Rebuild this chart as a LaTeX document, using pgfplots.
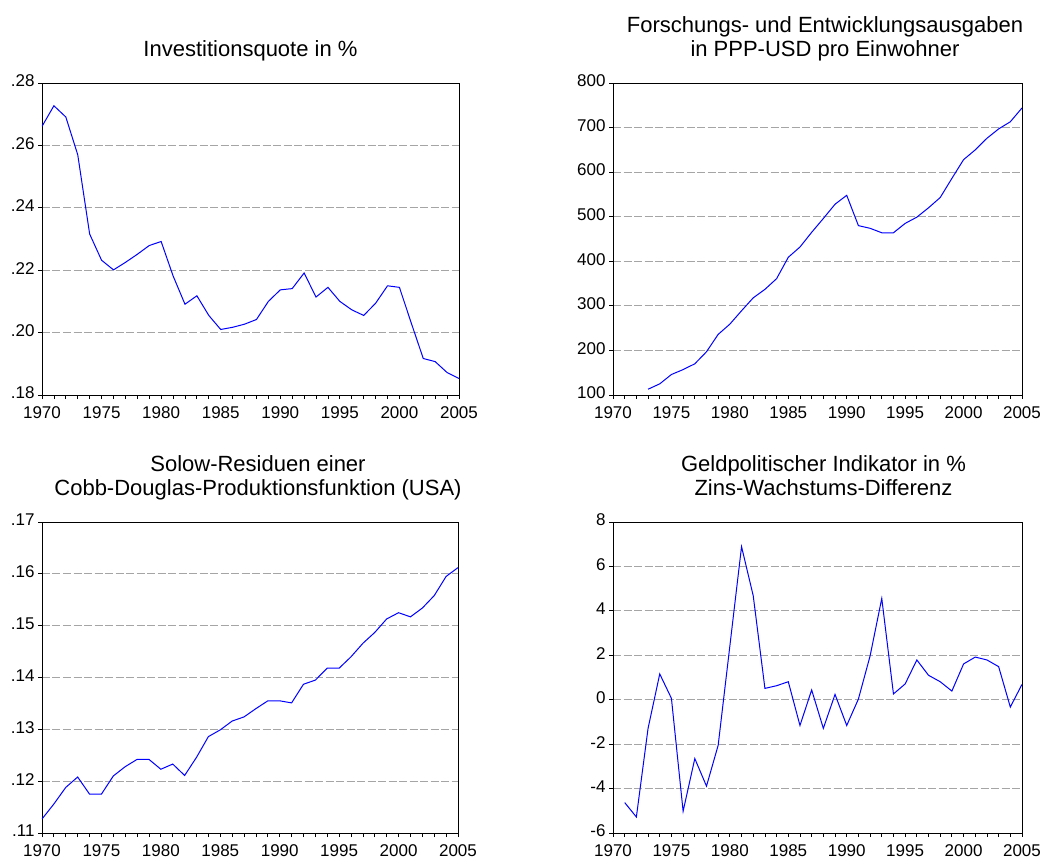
\documentclass[border=0pt]{standalone}
\usepackage{fontspec}
\setmainfont{Liberation Sans}
\usepackage{pgfplots}
\pgfplotsset{compat=1.18}
\definecolor{gridgray}{RGB}{165,165,165}
\pgfplotsset{
  panel/.style={
    scale only axis,
    anchor=north west,
    xmin=1970, xmax=2005,
    enlargelimits=false,
    axis line style={black, line width=0.9pt},
    tick align=outside,
    xtick pos=bottom, ytick pos=left,
    xtick={1970,1975,...,2005},
    xticklabels={1970,1975,1980,1985,1990,1995,2000,2005},
    minor x tick num=4,
    major tick length=4pt, minor tick length=4pt,
    every tick/.style={black, line width=0.8pt},
    tick label style={font=\fontsize{17}{19}\selectfont},
    xticklabel style={yshift=-4.5pt},
    yticklabel style={yshift=2pt},
    /pgf/number format/assume math mode=true,
    ymajorgrids,
    major grid style={gridgray, line width=0.9pt, dash pattern=on 8pt off 2.5pt},
    every axis title shift=0pt,
    title style={font=\fontsize{22}{24.5}\selectfont, align=center, anchor=south, inner sep=0pt, yshift=18.5pt},
    every axis plot/.append style={blue, line width=1pt, no marks},
  }
}
\begin{document}
\begin{tikzpicture}
\path[use as bounding box] (0pt,0pt) rectangle (1053pt,-861pt);

% Panel 1
\begin{axis}[panel, at={(42pt,-83pt)}, width=417pt, height=312pt,
  ymin=0.18, ymax=0.28,
  ytick={0.18,0.20,0.22,0.24,0.26,0.28},
  yticklabels={.18,.20,.22,.24,.26,.28},
  title={Investitionsquote in \%\strut}]
\addplot coordinates {
(1970,0.2661) (1971,0.2727) (1972,0.2691) (1973,0.2570) (1974,0.2316)
(1975,0.2232) (1976,0.2201) (1977,0.2225) (1978,0.2251) (1979,0.2279)
(1980,0.2292) (1981,0.2182) (1982,0.2091) (1983,0.2118) (1984,0.2055)
(1985,0.2010) (1986,0.2017) (1987,0.2027) (1988,0.2042) (1989,0.2100)
(1990,0.2137) (1991,0.2141) (1992,0.2191) (1993,0.2114) (1994,0.2145)
(1995,0.2100) (1996,0.2073) (1997,0.2055) (1998,0.2094) (1999,0.2150)
(2000,0.2145) (2001,0.2030) (2002,0.1917) (2003,0.1907) (2004,0.1872)
(2005,0.1853)};
\end{axis}

% Panel 2
\begin{axis}[panel, at={(613pt,-83pt)}, width=409pt, height=312pt,
  ymin=100, ymax=800,
  ytick={100,200,...,800},
  yticklabels={100,200,300,400,500,600,700,800},
  title style={xshift=7.5pt},
  title={Forschungs- und Entwicklungsausgaben\\in PPP-USD pro Einwohner\strut}]
\addplot coordinates {
(1973,113) (1974,125) (1975,146) (1976,157) (1977,170) (1978,197)
(1979,236) (1980,259) (1981,289) (1982,318) (1983,337) (1984,361)
(1985,409) (1986,432) (1987,465) (1988,496) (1989,528) (1990,548)
(1991,480) (1992,474) (1993,464) (1994,464) (1995,485) (1996,499)
(1997,520) (1998,543) (1999,586) (2000,628) (2001,650) (2002,676)
(2003,697) (2004,713) (2005,744)};
\end{axis}

% Panel 3
\begin{axis}[panel, at={(42pt,-522pt)}, width=416pt, height=311pt,
  ymin=0.11, ymax=0.17,
  ytick={0.11,0.12,0.13,0.14,0.15,0.16,0.17},
  yticklabels={.11,.12,.13,.14,.15,.16,.17},
  title style={xshift=8pt},
  title={Solow-Residuen einer\\Cobb-Douglas-Produktionsfunktion (USA)\strut}]
\addplot coordinates {
(1970,0.1127) (1971,0.1156) (1972,0.1188) (1973,0.1208) (1974,0.1175)
(1975,0.1175) (1976,0.1210) (1977,0.1228) (1978,0.1242) (1979,0.1242)
(1980,0.1223) (1981,0.1233) (1982,0.1211) (1983,0.1246) (1984,0.1286)
(1985,0.1299) (1986,0.1316) (1987,0.1324) (1988,0.1340) (1989,0.1355)
(1990,0.1355) (1991,0.1351) (1992,0.1387) (1993,0.1395) (1994,0.1418)
(1995,0.1418) (1996,0.1440) (1997,0.1466) (1998,0.1487) (1999,0.1513)
(2000,0.1525) (2001,0.1517) (2002,0.1534) (2003,0.1558) (2004,0.1595)
(2005,0.1612)};
\end{axis}

% Panel 4
\begin{axis}[panel, at={(613pt,-522pt)}, width=409pt, height=311pt,
  ymin=-6, ymax=8,
  ytick={-6,-4,...,8},
  yticklabels={-6,-4,-2,0,2,4,6,8},
  title style={xshift=6pt},
  title={Geldpolitischer Indikator in \%\\Zins-Wachstums-Differenz\strut}]
\addplot coordinates {
(1971,-4.63) (1972,-5.28) (1973,-1.29) (1974,1.16) (1975,0.06)
(1976,-5.02) (1977,-2.65) (1978,-3.89) (1979,-2.05) (1980,2.42)
(1981,6.89) (1982,4.68) (1983,0.51) (1984,0.63) (1985,0.81)
(1986,-1.16) (1987,0.44) (1988,-1.29) (1989,0.24) (1990,-1.16)
(1991,0.03) (1992,1.97) (1993,4.56) (1994,0.26) (1995,0.71)
(1996,1.79) (1997,1.10) (1998,0.81) (1999,0.39) (2000,1.61)
(2001,1.92) (2002,1.79) (2003,1.49) (2004,-0.33) (2005,0.69)};
\end{axis}
\end{tikzpicture}
\end{document}
